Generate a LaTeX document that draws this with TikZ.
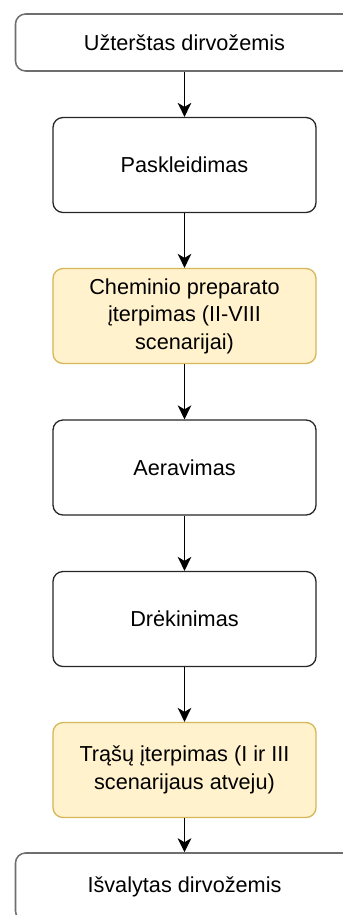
\documentclass[tikz,border=0pt]{standalone}
\usepackage{fontspec}
\setmainfont{Liberation Sans}
\usepackage{tikz}
\usetikzlibrary{arrows.meta,positioning,shapes,calc}

\definecolor{noteFill}{HTML}{FFF2CC}
\definecolor{noteLine}{HTML}{D6B656}
\definecolor{endLine}{HTML}{6E6E6E}

\begin{document}
\begin{tikzpicture}[x=0.03cm,y=-0.03cm,
    stepbox/.style={draw=black!85,line width=1.1pt,rounded corners=0.3cm,fill=white,
      minimum width=7.89cm,minimum height=2.85cm,align=center,
      font=\fontsize{18.5}{23.4}\selectfont},
    notebox/.style={stepbox,draw=noteLine,fill=noteFill},
    endbox/.style={stepbox,draw=endLine,line width=1.3pt,minimum width=10.14cm},
    flow/.style={-{Stealth[length=4.2mm,width=4.1mm,inset=1.2mm]},line width=1.2pt}]
  \useasboundingbox (0,0) rectangle (343,915);
  \clip (0,0) rectangle (343,915);
  % Start and end boxes run past the edge of the picture
  \path (184.5,42.5) node[endbox,minimum height=1.71cm] (start) {Užterštas dirvožemis};
  \path (184.5,887) node[endbox,minimum height=2.04cm] (finish) {Išvalytas dirvožemis};
  % Treatment steps
  \path (184.5,165) node[stepbox] (spread) {Paskleidimas};
  \path (184.5,316) node[notebox] (chem) {Cheminio preparato\\ įterpimas (II-VIII\\ scenarijai)};
  \path (184.5,467.5) node[stepbox] (aerate) {Aeravimas};
  \path (184.5,619) node[stepbox] (moist) {Drėkinimas};
  \path (184.5,770) node[notebox] (fert) {Trąšų įterpimas (I ir III\\ scenarijaus atveju)};
  % Arrows between the steps
  \draw[flow] (start) -- (spread);
  \draw[flow] (spread) -- (chem);
  \draw[flow] (chem) -- (aerate);
  \draw[flow] (aerate) -- (moist);
  \draw[flow] (moist) -- (fert);
  \draw[flow] (fert) -- (finish);
\end{tikzpicture}
\end{document}
